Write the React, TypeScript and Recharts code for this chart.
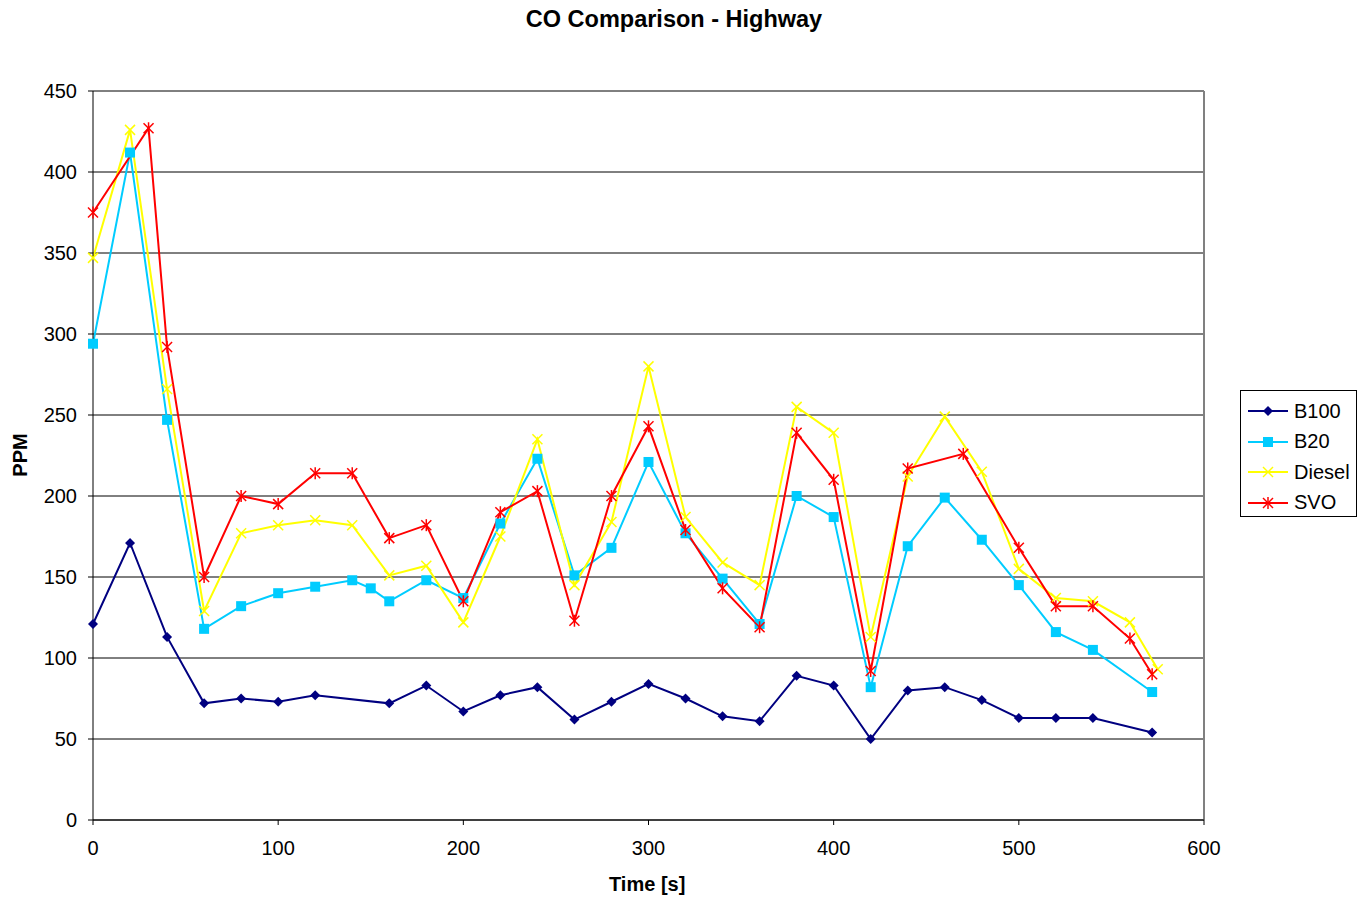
import React from 'react';
import {
  LineChart,
  Line,
  XAxis,
  YAxis,
  CartesianGrid,
  ReferenceLine,
} from 'recharts';

// readings
const b100X = [0, 20, 40, 60, 80, 100, 120, 160, 180, 200, 220, 240, 260, 280, 300, 320, 340, 360, 380, 400, 420, 440, 460, 480, 500, 520, 540, 572];
const b100Y = [121, 171, 113, 72, 75, 73, 77, 72, 83, 67, 77, 82, 62, 73, 84, 75, 64, 61, 89, 83, 50, 80, 82, 74, 63, 63, 63, 54];

const b20X = [0, 20, 40, 60, 80, 100, 120, 140, 150, 160, 180, 200, 220, 240, 260, 280, 300, 320, 340, 360, 380, 400, 420, 440, 460, 480, 500, 520, 540, 572];
const b20Y = [294, 412, 247, 118, 132, 140, 144, 148, 143, 135, 148, 137, 183, 223, 151, 168, 221, 177, 149, 121, 200, 187, 82, 169, 199, 173, 145, 116, 105, 79];

const dieselX = [0, 20, 40, 60, 80, 100, 120, 140, 160, 180, 200, 220, 240, 260, 280, 300, 320, 340, 360, 380, 400, 420, 440, 460, 480, 500, 520, 540, 560, 575];
const dieselY = [347, 426, 266, 129, 177, 182, 185, 182, 151, 157, 122, 175, 235, 145, 184, 280, 187, 159, 145, 255, 239, 113, 212, 249, 215, 155, 137, 135, 122, 93];

const svoX = [0, 30, 40, 60, 80, 100, 120, 140, 160, 180, 200, 220, 240, 260, 280, 300, 320, 340, 360, 380, 400, 420, 440, 470, 500, 520, 540, 560, 572];
const svoY = [375, 427, 292, 150, 200, 195, 214, 214, 174, 182, 135, 190, 203, 123, 200, 243, 179, 143, 119, 239, 210, 92, 217, 226, 168, 132, 132, 112, 90];

const xTicks = [0, 100, 200, 300, 400, 500, 600];
const yTicks = [0, 50, 100, 150, 200, 250, 300, 350, 400, 450];

const pts = (xs: number[], ys: number[]) => xs.map((x, i) => ({ x, y: ys[i] }));

const SERIES = [
  { name: 'B100', color: '#000080', data: pts(b100X, b100Y), shape: 'diamond' },
  { name: 'B20', color: '#00CCFF', data: pts(b20X, b20Y), shape: 'square' },
  { name: 'Diesel', color: '#FFFF00', data: pts(dieselX, dieselY), shape: 'x' },
  { name: 'SVO', color: '#FF0000', data: pts(svoX, svoY), shape: 'star' },
];

const FONT = '"Liberation Sans", Arial, sans-serif';

function Marker({ cx, cy, shape, color }: { cx: number; cy: number; shape: string; color: string }) {
  if (cx == null || cy == null) return null;
  if (shape === 'diamond') {
    const r = 5;
    return <polygon points={`${cx},${cy - r} ${cx + r},${cy} ${cx},${cy + r} ${cx - r},${cy}`} fill={color} />;
  }
  if (shape === 'square') {
    return <rect x={cx - 5} y={cy - 5} width={10} height={10} fill={color} />;
  }
  const r = 5;
  return (
    <g stroke={color} strokeWidth={1.5}>
      <line x1={cx - r} y1={cy - r} x2={cx + r} y2={cy + r} />
      <line x1={cx - r} y1={cy + r} x2={cx + r} y2={cy - r} />
      {shape === 'star' && <line x1={cx} y1={cy - r - 1} x2={cx} y2={cy + r + 1} />}
    </g>
  );
}

function LegendBox() {
  return (
    <div
      style={{
        position: 'absolute',
        left: 1240,
        top: 390,
        width: 117,
        height: 127,
        border: '1px solid #000',
        background: '#fff',
        fontFamily: FONT,
        fontSize: 20,
        boxSizing: 'border-box',
      }}
    >
      {SERIES.map((s, i) => (
        <div key={s.name} style={{ position: 'absolute', left: 0, top: 6 + i * 30.5, height: 28, display: 'flex', alignItems: 'center' }}>
          <svg width={50} height={28}>
            <line x1={7} y1={14} x2={47} y2={14} stroke={s.color} strokeWidth={2} />
            <Marker cx={27} cy={14} shape={s.shape} color={s.color} />
          </svg>
          <span style={{ marginLeft: 3 }}>{s.name}</span>
        </div>
      ))}
    </div>
  );
}

export default function App() {
  return (
    <div style={{ position: 'absolute', left: 0, top: 0, width: 1364, height: 899, background: '#fff', fontFamily: FONT }}>
      <div style={{ position: 'absolute', left: 0, top: 6, width: 1348, textAlign: 'center', fontSize: 23.5, fontWeight: 'bold' }}>
        CO Comparison - Highway
      </div>
      <LineChart width={1364} height={899} margin={{ top: 91, right: 160, bottom: 39, left: 33 }}>
        <CartesianGrid vertical={false} stroke="#000" strokeOpacity={1} />
        <XAxis
          dataKey="x"
          type="number"
          domain={[0, 600]}
          ticks={xTicks}
          allowDuplicatedCategory={false}
          height={40}
          tickSize={5}
          tickMargin={16}
          stroke="#000"
          tick={{ fill: '#000', fontSize: 20, fontFamily: FONT }}
        />
        <YAxis
          type="number"
          domain={[0, 450]}
          ticks={yTicks}
          width={60}
          tickSize={5}
          tickMargin={11}
          stroke="#000"
          tick={{ fill: '#000', fontSize: 20, fontFamily: FONT }}
        />
        <ReferenceLine x={600} stroke="#808080" strokeWidth={2} />
        {SERIES.map((s) => (
          <Line
            key={s.name}
            data={s.data}
            dataKey="y"
            name={s.name}
            stroke={s.color}
            strokeWidth={2}
            isAnimationActive={false}
            activeDot={false}
            dot={(p: any) => <Marker key={`${s.name}-${p.index}`} cx={p.cx} cy={p.cy} shape={s.shape} color={s.color} />}
          />
        ))}
      </LineChart>
      <div style={{ position: 'absolute', left: 609, top: 873, fontSize: 20, fontWeight: 'bold' }}>Time [s]</div>
      <div
        style={{
          position: 'absolute',
          left: 20,
          top: 455,
          fontSize: 20,
          fontWeight: 'bold',
          transform: 'translate(-50%, -50%) rotate(-90deg)',
          whiteSpace: 'nowrap',
        }}
      >
        PPM
      </div>
      <LegendBox />
    </div>
  );
}
